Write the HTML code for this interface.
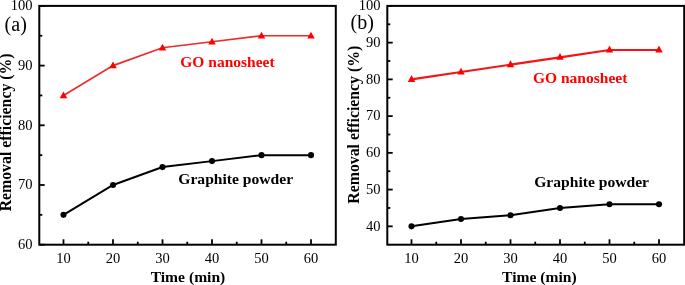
<!DOCTYPE html>
<html><head><meta charset="utf-8"><style>
html,body{margin:0;padding:0;background:#fff;}
svg{display:block;will-change:transform}
.t{font-family:"Liberation Serif",serif;font-size:14.5px;fill:#000}
.l{font-family:"Liberation Serif",serif;font-size:20px;fill:#000}
.b{font-family:"Liberation Serif",serif;font-size:15.6px;font-weight:bold}
</style></head><body>
<svg width="685" height="285" viewBox="0 0 685 285">
<rect width="685" height="285" fill="#fff"/>
<rect x="39.3" y="5.9" width="296.5" height="238.79999999999998" fill="none" stroke="#000" stroke-width="2"/>
<line x1="39.3" y1="244.70" x2="44.699999999999996" y2="244.70" stroke="#000" stroke-width="1.8"/>
<text x="32.4" y="249.00" text-anchor="end" class="t">60</text>
<line x1="39.3" y1="185.00" x2="44.699999999999996" y2="185.00" stroke="#000" stroke-width="1.8"/>
<text x="32.4" y="189.30" text-anchor="end" class="t">70</text>
<line x1="39.3" y1="125.30" x2="44.699999999999996" y2="125.30" stroke="#000" stroke-width="1.8"/>
<text x="32.4" y="129.60" text-anchor="end" class="t">80</text>
<line x1="39.3" y1="65.60" x2="44.699999999999996" y2="65.60" stroke="#000" stroke-width="1.8"/>
<text x="32.4" y="69.90" text-anchor="end" class="t">90</text>
<line x1="39.3" y1="5.90" x2="44.699999999999996" y2="5.90" stroke="#000" stroke-width="1.8"/>
<text x="32.4" y="10.20" text-anchor="end" class="t">100</text>
<line x1="39.3" y1="214.85" x2="42.3" y2="214.85" stroke="#000" stroke-width="1.8"/>
<line x1="39.3" y1="155.15" x2="42.3" y2="155.15" stroke="#000" stroke-width="1.8"/>
<line x1="39.3" y1="95.45" x2="42.3" y2="95.45" stroke="#000" stroke-width="1.8"/>
<line x1="39.3" y1="35.75" x2="42.3" y2="35.75" stroke="#000" stroke-width="1.8"/>
<line x1="63.50" y1="244.7" x2="63.50" y2="239.29999999999998" stroke="#000" stroke-width="1.8"/>
<text x="63.50" y="262.7" text-anchor="middle" class="t">10</text>
<line x1="88.25" y1="244.7" x2="88.25" y2="241.7" stroke="#000" stroke-width="1.8"/>
<line x1="113.00" y1="244.7" x2="113.00" y2="239.29999999999998" stroke="#000" stroke-width="1.8"/>
<text x="113.00" y="262.7" text-anchor="middle" class="t">20</text>
<line x1="137.75" y1="244.7" x2="137.75" y2="241.7" stroke="#000" stroke-width="1.8"/>
<line x1="162.50" y1="244.7" x2="162.50" y2="239.29999999999998" stroke="#000" stroke-width="1.8"/>
<text x="162.50" y="262.7" text-anchor="middle" class="t">30</text>
<line x1="187.25" y1="244.7" x2="187.25" y2="241.7" stroke="#000" stroke-width="1.8"/>
<line x1="212.00" y1="244.7" x2="212.00" y2="239.29999999999998" stroke="#000" stroke-width="1.8"/>
<text x="212.00" y="262.7" text-anchor="middle" class="t">40</text>
<line x1="236.75" y1="244.7" x2="236.75" y2="241.7" stroke="#000" stroke-width="1.8"/>
<line x1="261.50" y1="244.7" x2="261.50" y2="239.29999999999998" stroke="#000" stroke-width="1.8"/>
<text x="261.50" y="262.7" text-anchor="middle" class="t">50</text>
<line x1="286.25" y1="244.7" x2="286.25" y2="241.7" stroke="#000" stroke-width="1.8"/>
<line x1="311.00" y1="244.7" x2="311.00" y2="239.29999999999998" stroke="#000" stroke-width="1.8"/>
<text x="311.00" y="262.7" text-anchor="middle" class="t">60</text>
<polyline points="63.50,214.85 113.00,185.00 162.50,167.09 212.00,161.12 261.50,155.15 311.00,155.15" fill="none" stroke="#000" stroke-width="2"/>
<circle cx="63.50" cy="214.85" r="3.05" fill="#000"/>
<circle cx="113.00" cy="185.00" r="3.05" fill="#000"/>
<circle cx="162.50" cy="167.09" r="3.05" fill="#000"/>
<circle cx="212.00" cy="161.12" r="3.05" fill="#000"/>
<circle cx="261.50" cy="155.15" r="3.05" fill="#000"/>
<circle cx="311.00" cy="155.15" r="3.05" fill="#000"/>
<polyline points="63.50,95.45 113.00,65.60 162.50,47.69 212.00,41.72 261.50,35.75 311.00,35.75" fill="none" stroke="#ee2a2a" stroke-width="1.65"/>
<polygon points="63.50,91.45 59.70,98.15 67.30,98.15" fill="#f00"/>
<polygon points="113.00,61.60 109.20,68.30 116.80,68.30" fill="#f00"/>
<polygon points="162.50,43.69 158.70,50.39 166.30,50.39" fill="#f00"/>
<polygon points="212.00,37.72 208.20,44.42 215.80,44.42" fill="#f00"/>
<polygon points="261.50,31.75 257.70,38.45 265.30,38.45" fill="#f00"/>
<polygon points="311.00,31.75 307.20,38.45 314.80,38.45" fill="#f00"/>
<text x="4.6" y="30.5" class="l">(a)</text>
<text x="180.3" y="67.2" class="b" style="font-size:15.5px" fill="#f00">GO nanosheet</text>
<text x="178.3" y="184" class="b">Graphite powder</text>
<text x="188" y="281.8" text-anchor="middle" class="b">Time (min)</text>
<text transform="translate(10.8,132.4) rotate(-90)" text-anchor="middle" class="b" style="font-size:15.8px">Removal efficiency (%)</text>
<rect x="387.3" y="5.9" width="296.90000000000003" height="238.79999999999998" fill="none" stroke="#000" stroke-width="2"/>
<line x1="387.3" y1="226.33" x2="392.7" y2="226.33" stroke="#000" stroke-width="1.8"/>
<text x="380.40000000000003" y="230.63" text-anchor="end" class="t">40</text>
<line x1="387.3" y1="189.59" x2="392.7" y2="189.59" stroke="#000" stroke-width="1.8"/>
<text x="380.40000000000003" y="193.89" text-anchor="end" class="t">50</text>
<line x1="387.3" y1="152.85" x2="392.7" y2="152.85" stroke="#000" stroke-width="1.8"/>
<text x="380.40000000000003" y="157.15" text-anchor="end" class="t">60</text>
<line x1="387.3" y1="116.12" x2="392.7" y2="116.12" stroke="#000" stroke-width="1.8"/>
<text x="380.40000000000003" y="120.42" text-anchor="end" class="t">70</text>
<line x1="387.3" y1="79.38" x2="392.7" y2="79.38" stroke="#000" stroke-width="1.8"/>
<text x="380.40000000000003" y="83.68" text-anchor="end" class="t">80</text>
<line x1="387.3" y1="42.64" x2="392.7" y2="42.64" stroke="#000" stroke-width="1.8"/>
<text x="380.40000000000003" y="46.94" text-anchor="end" class="t">90</text>
<line x1="387.3" y1="5.90" x2="392.7" y2="5.90" stroke="#000" stroke-width="1.8"/>
<text x="380.40000000000003" y="10.20" text-anchor="end" class="t">100</text>
<line x1="387.3" y1="207.96" x2="390.3" y2="207.96" stroke="#000" stroke-width="1.8"/>
<line x1="387.3" y1="171.22" x2="390.3" y2="171.22" stroke="#000" stroke-width="1.8"/>
<line x1="387.3" y1="134.48" x2="390.3" y2="134.48" stroke="#000" stroke-width="1.8"/>
<line x1="387.3" y1="97.75" x2="390.3" y2="97.75" stroke="#000" stroke-width="1.8"/>
<line x1="387.3" y1="61.01" x2="390.3" y2="61.01" stroke="#000" stroke-width="1.8"/>
<line x1="387.3" y1="24.27" x2="390.3" y2="24.27" stroke="#000" stroke-width="1.8"/>
<line x1="411.50" y1="244.7" x2="411.50" y2="239.29999999999998" stroke="#000" stroke-width="1.8"/>
<text x="411.50" y="262.7" text-anchor="middle" class="t">10</text>
<line x1="436.25" y1="244.7" x2="436.25" y2="241.7" stroke="#000" stroke-width="1.8"/>
<line x1="461.00" y1="244.7" x2="461.00" y2="239.29999999999998" stroke="#000" stroke-width="1.8"/>
<text x="461.00" y="262.7" text-anchor="middle" class="t">20</text>
<line x1="485.75" y1="244.7" x2="485.75" y2="241.7" stroke="#000" stroke-width="1.8"/>
<line x1="510.50" y1="244.7" x2="510.50" y2="239.29999999999998" stroke="#000" stroke-width="1.8"/>
<text x="510.50" y="262.7" text-anchor="middle" class="t">30</text>
<line x1="535.25" y1="244.7" x2="535.25" y2="241.7" stroke="#000" stroke-width="1.8"/>
<line x1="560.00" y1="244.7" x2="560.00" y2="239.29999999999998" stroke="#000" stroke-width="1.8"/>
<text x="560.00" y="262.7" text-anchor="middle" class="t">40</text>
<line x1="584.75" y1="244.7" x2="584.75" y2="241.7" stroke="#000" stroke-width="1.8"/>
<line x1="609.50" y1="244.7" x2="609.50" y2="239.29999999999998" stroke="#000" stroke-width="1.8"/>
<text x="609.50" y="262.7" text-anchor="middle" class="t">50</text>
<line x1="634.25" y1="244.7" x2="634.25" y2="241.7" stroke="#000" stroke-width="1.8"/>
<line x1="659.00" y1="244.7" x2="659.00" y2="239.29999999999998" stroke="#000" stroke-width="1.8"/>
<text x="659.00" y="262.7" text-anchor="middle" class="t">60</text>
<polyline points="411.50,226.33 461.00,218.98 510.50,215.31 560.00,207.96 609.50,204.29 659.00,204.29" fill="none" stroke="#000" stroke-width="2"/>
<circle cx="411.50" cy="226.33" r="3.05" fill="#000"/>
<circle cx="461.00" cy="218.98" r="3.05" fill="#000"/>
<circle cx="510.50" cy="215.31" r="3.05" fill="#000"/>
<circle cx="560.00" cy="207.96" r="3.05" fill="#000"/>
<circle cx="609.50" cy="204.29" r="3.05" fill="#000"/>
<circle cx="659.00" cy="204.29" r="3.05" fill="#000"/>
<polyline points="411.50,79.38 461.00,72.03 510.50,64.68 560.00,57.33 609.50,49.99 659.00,49.99" fill="none" stroke="#f41414" stroke-width="2.2"/>
<polygon points="411.50,74.98 407.80,81.88 415.20,81.88" fill="#f00"/>
<polygon points="461.00,67.63 457.30,74.53 464.70,74.53" fill="#f00"/>
<polygon points="510.50,60.28 506.80,67.18 514.20,67.18" fill="#f00"/>
<polygon points="560.00,52.93 556.30,59.83 563.70,59.83" fill="#f00"/>
<polygon points="609.50,45.59 605.80,52.49 613.20,52.49" fill="#f00"/>
<polygon points="659.00,45.59 655.30,52.49 662.70,52.49" fill="#f00"/>
<text x="350.5" y="28.6" class="l">(b)</text>
<text x="533" y="83.3" class="b" style="font-size:15.5px" fill="#f00">GO nanosheet</text>
<text x="534.2" y="187" class="b">Graphite powder</text>
<text x="539.4" y="281.8" text-anchor="middle" class="b">Time (min)</text>
<text transform="translate(359.1,124.7) rotate(-90)" text-anchor="middle" class="b" style="font-size:15.8px">Removal efficiency (%)</text>
</svg>
</body></html>
